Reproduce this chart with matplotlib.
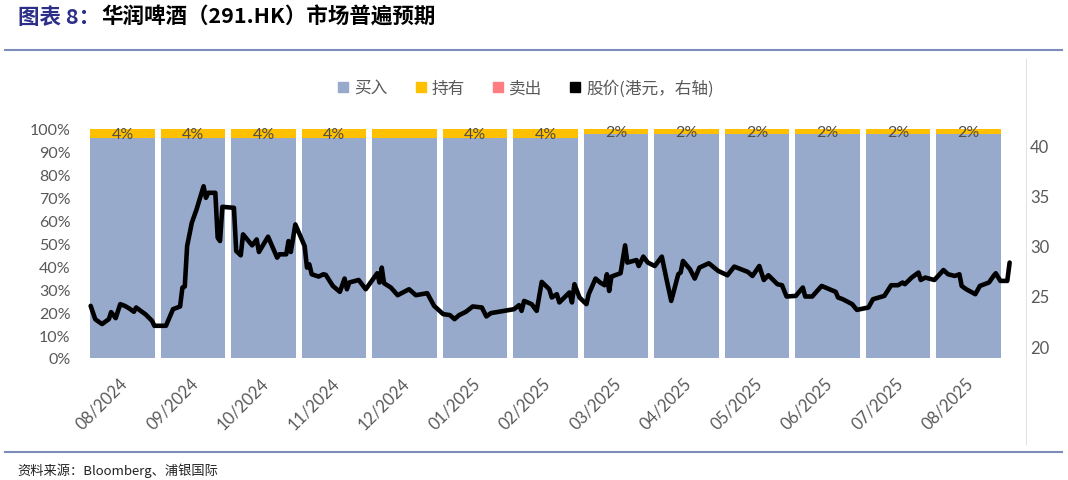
import matplotlib
matplotlib.use("Agg")
import matplotlib.pyplot as plt
import matplotlib.patches as mpatches
from matplotlib.lines import Line2D
from matplotlib.transforms import ScaledTranslation
import numpy as np
import pandas as pd

# ---------------- data ----------------
months = ["08/2024", "09/2024", "10/2024", "11/2024", "12/2024", "01/2025", "02/2025",
          "03/2025", "04/2025", "05/2025", "06/2025", "07/2025", "08/2025"]
buy_pct = [0.96, 0.96, 0.96, 0.96, 0.96, 0.96, 0.96, 0.98, 0.98, 0.98, 0.98, 0.98, 0.98]
hold_pct = [0.04, 0.04, 0.04, 0.04, 0.04, 0.04, 0.04, 0.02, 0.02, 0.02, 0.02, 0.02, 0.02]
sell_pct = [0.0] * 13
hold_labels = ["4%", "4%", "4%", "4%", "", "4%", "4%", "2%", "2%", "2%", "2%", "2%", "2%"]

price_dates = [
    "2024-08-02", "2024-08-04", "2024-08-05", "2024-08-07", "2024-08-10", "2024-08-11", "2024-08-13",
    "2024-08-15", "2024-08-17", "2024-08-19", "2024-08-21", "2024-08-22", "2024-08-24", "2024-08-26",
    "2024-08-29", "2024-08-30", "2024-09-04", "2024-09-07", "2024-09-10", "2024-09-11", "2024-09-12",
    "2024-09-13", "2024-09-15", "2024-09-17", "2024-09-20", "2024-09-21", "2024-09-22", "2024-09-25",
    "2024-09-26", "2024-09-27", "2024-09-28", "2024-10-03", "2024-10-04", "2024-10-06", "2024-10-07",
    "2024-10-10", "2024-10-11", "2024-10-13", "2024-10-14", "2024-10-18", "2024-10-22", "2024-10-23",
    "2024-10-26", "2024-10-27", "2024-10-28", "2024-10-30", "2024-11-03", "2024-11-04", "2024-11-05",
    "2024-11-06", "2024-11-09", "2024-11-11", "2024-11-12", "2024-11-15", "2024-11-18", "2024-11-20",
    "2024-11-21", "2024-11-22", "2024-11-26", "2024-11-29", "2024-12-04", "2024-12-05", "2024-12-06",
    "2024-12-07", "2024-12-10", "2024-12-13", "2024-12-18", "2024-12-21", "2024-12-26", "2024-12-29",
    "2025-01-02", "2025-01-05", "2025-01-07", "2025-01-09", "2025-01-12", "2025-01-15", "2025-01-19",
    "2025-01-21", "2025-01-23", "2025-02-02", "2025-02-04", "2025-02-05", "2025-02-06", "2025-02-09",
    "2025-02-11", "2025-02-13", "2025-02-16", "2025-02-17", "2025-02-19", "2025-02-20", "2025-02-24",
    "2025-02-25", "2025-02-26", "2025-02-28", "2025-03-03", "2025-03-04", "2025-03-07", "2025-03-09",
    "2025-03-11", "2025-03-12", "2025-03-13", "2025-03-14", "2025-03-18", "2025-03-20", "2025-03-21",
    "2025-03-25", "2025-03-26", "2025-03-28", "2025-03-30", "2025-04-02", "2025-04-05", "2025-04-07",
    "2025-04-09", "2025-04-12", "2025-04-13", "2025-04-14", "2025-04-17", "2025-04-19", "2025-04-21",
    "2025-04-25", "2025-04-29", "2025-05-03", "2025-05-06", "2025-05-12", "2025-05-14", "2025-05-17",
    "2025-05-19", "2025-05-21", "2025-05-25", "2025-05-27", "2025-05-29", "2025-06-02", "2025-06-05",
    "2025-06-06", "2025-06-09", "2025-06-13", "2025-06-19", "2025-06-20", "2025-06-22", "2025-06-26",
    "2025-06-28", "2025-07-03", "2025-07-05", "2025-07-10", "2025-07-13", "2025-07-16", "2025-07-18",
    "2025-07-19", "2025-07-22", "2025-07-25", "2025-07-26", "2025-07-28", "2025-08-01", "2025-08-05",
    "2025-08-07", "2025-08-10", "2025-08-12", "2025-08-13", "2025-08-15", "2025-08-19", "2025-08-21",
    "2025-08-25", "2025-08-27", "2025-08-28", "2025-08-30", "2025-09-02", "2025-09-03",
]
price_values = [
    24.02, 22.70, 22.53, 22.21, 22.70, 23.40, 22.80,
    24.19, 24.02, 23.76, 23.43, 23.86, 23.52, 23.20,
    22.53, 22.04, 22.04, 23.69, 23.96, 25.84, 25.94,
    29.96, 32.28, 33.59, 35.90, 34.75, 35.25, 35.25,
    30.79, 30.46, 33.86, 33.76, 29.47, 29.04, 31.12,
    30.30, 30.03, 30.62, 29.37, 30.89, 28.81, 29.14,
    29.14, 30.46, 29.37, 32.11, 29.96, 27.82, 28.15,
    27.16, 26.93, 27.16, 27.10, 26.00, 25.41, 26.73,
    25.67, 26.34, 26.59, 25.67, 27.26, 26.34, 27.82,
    26.27, 25.84, 25.08, 25.67, 25.08, 25.28, 24.02,
    23.20, 23.10, 22.70, 23.10, 23.43, 23.96, 23.86,
    22.97, 23.30, 23.69, 24.09, 23.52, 24.51, 24.19,
    23.52, 26.40, 25.67, 24.85, 25.18, 24.36, 25.35,
    24.36, 26.17, 24.85, 24.19, 25.18, 26.73, 26.34,
    26.07, 27.16, 25.50, 26.93, 27.26, 30.03, 28.32,
    28.57, 27.98, 28.91, 28.32, 27.98, 28.91, 26.66,
    24.51, 27.16, 27.33, 28.48, 27.65, 26.73, 27.82,
    28.25, 27.49, 27.06, 27.92, 27.39, 26.99, 27.98,
    26.59, 27.06, 26.17, 26.07, 24.95, 25.01, 25.84,
    24.95, 24.95, 26.00, 25.41, 24.85, 24.68, 24.19,
    23.62, 23.86, 24.68, 25.01, 26.07, 26.07, 26.34,
    26.17, 26.83, 27.33, 26.59, 26.83, 26.59, 27.58,
    27.16, 26.99, 27.16, 26.00, 25.67, 25.18, 26.00,
    26.34, 26.99, 27.26, 26.50, 26.50, 28.32,
]
right_ticks = [20, 25, 30, 35, 40]
left_ticks = [0.0, 0.1, 0.2, 0.3, 0.4, 0.5, 0.6, 0.7, 0.8, 0.9, 1.0]

# ---------------- style ----------------
CJK = ["Noto Sans CJK SC", "DejaVu Sans"]
NUM = ["Lato", "DejaVu Sans"]
GRAY = "#595959"
BUY_C = "#98AACB"
HOLD_C = "#FFC000"
SELL_C = "#FF7C80"
RULE_C = "#7E8CBB"

W, H = 1068, 481
fig = plt.figure(figsize=(W / 100, H / 100), dpi=100)

def fx(px):
    return px / W

def fy(py):
    return 1 - py / H

# axes placement (pixels)
ax_left, ax_right, ax_top, ax_bottom = 87.25, 1026.0, 130.0, 359.0
ax = fig.add_axes([fx(ax_left), fy(ax_bottom), (ax_right - ax_left) / W, (ax_bottom - ax_top) / H])
pitch = 70.5
ax.set_xlim(-0.5, (ax_right - ax_left) / pitch - 0.5)
ax.set_ylim(0, 1)

x = np.arange(len(months))
ax.bar(x, buy_pct, width=0.92, color=BUY_C, zorder=2)
ax.bar(x, hold_pct, width=0.92, bottom=buy_pct, color=HOLD_C, zorder=2)
ax.bar(x, sell_pct, width=0.92, bottom=np.array(buy_pct) + np.array(hold_pct), color=SELL_C, zorder=2)
for i, lab in enumerate(hold_labels):
    if lab:
        ax.text(x[i], buy_pct[i] + hold_pct[i] / 2 - 0.004, lab, ha="center", va="center",
                fontsize=11.5, color="#4D4D4D", family=NUM, zorder=3)

for s in ax.spines.values():
    s.set_visible(False)
ax.set_yticks(left_ticks)
ax.set_yticklabels([f"{int(round(v * 100))}%" for v in left_ticks])
ax.tick_params(axis="y", length=0, pad=12, labelsize=11.5, labelcolor=GRAY)
for lab in ax.get_yticklabels():
    lab.set_family(NUM)
ax.set_xticks(x)
ax.set_xticklabels(months, rotation=45, ha="right", va="top")
ax.tick_params(axis="x", length=0, pad=12, labelsize=12, labelcolor=GRAY)
offset = ScaledTranslation(6 / 72, 0, fig.dpi_scale_trans)
for lab in ax.get_xticklabels():
    lab.set_family(NUM)
    lab.set_transform(lab.get_transform() + offset)

# price line on right axis
ax2 = ax.twinx()
ts = pd.to_datetime(pd.Series(price_dates))
month_idx = (ts.dt.year - 2024) * 12 + ts.dt.month - 8
xpos = month_idx - 0.5 + (ts.dt.day - 0.5) / ts.dt.days_in_month
ax2.plot(xpos.values, price_values, color="black", lw=3.3, solid_joinstyle="round",
         solid_capstyle="round", zorder=4)
ax2.set_ylim(18.84, 41.59)
ax2.set_yticks(right_ticks)
ax2.tick_params(axis="y", length=0, pad=3, labelsize=12, labelcolor=GRAY)
for lab in ax2.get_yticklabels():
    lab.set_family(NUM)
for s in ax2.spines.values():
    s.set_visible(False)

# legend
handles = [
    mpatches.Patch(color=BUY_C, label="买入"),
    mpatches.Patch(color=HOLD_C, label="持有"),
    mpatches.Patch(color=SELL_C, label="卖出"),
    mpatches.Patch(color="black", label="股价(港元，右轴)"),
]
leg = fig.legend(handles=handles, loc="center", bbox_to_anchor=(fx(526), fy(89)), ncol=4,
                 frameon=False, handlelength=0.6, handleheight=0.6, handletextpad=0.35,
                 columnspacing=1.7, prop={"family": CJK, "size": 12})
for t in leg.get_texts():
    t.set_color(GRAY)

# title
t1 = fig.text(fx(18), fy(17), "图表 8：", ha="left", va="center", fontsize=15.5,
              fontweight="bold", color="#2B2F87", family=CJK)
fig.canvas.draw()
bb = t1.get_window_extent(renderer=fig.canvas.get_renderer())
fig.text(bb.x1 / W + 0.001, fy(17), "华润啤酒（291.HK）市场普遍预期", ha="left", va="center",
         fontsize=15.5, fontweight="bold", color="black", family=CJK)

# rules and border
fig.add_artist(Line2D([fx(5), fx(1062)], [fy(50.5), fy(50.5)], color=RULE_C, lw=1.5))
fig.add_artist(Line2D([fx(5), fx(1062)], [fy(453), fy(453)], color=RULE_C, lw=1.5))
fig.add_artist(Line2D([fx(1026), fx(1026)], [fy(60), fy(445)], color="#E3E3E3", lw=0.8))

# source
fig.text(fx(17), fy(471), "资料来源：Bloomberg、浦银国际", ha="left", va="center",
         fontsize=9.5, color="#222222", family=CJK)

fig.savefig("out.png", dpi=100)
